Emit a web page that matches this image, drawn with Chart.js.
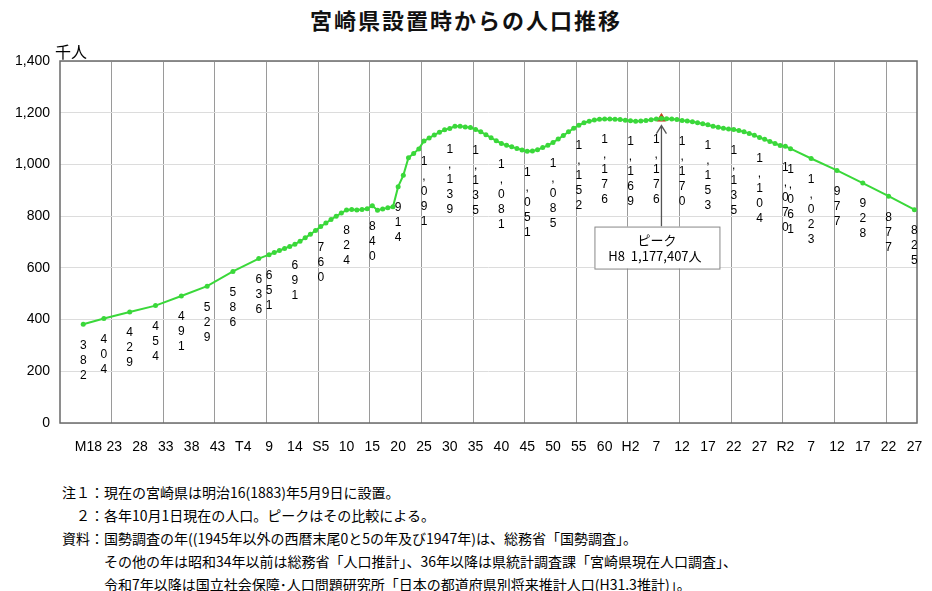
<!DOCTYPE html>
<html lang="ja">
<head>
<meta charset="utf-8">
<title>宮崎県設置時からの人口推移</title>
<script src="https://cdn.jsdelivr.net/npm/chart.js@4.4.1/dist/chart.umd.min.js"></script>
<style>
  html, body { margin: 0; padding: 0; background: #fff; }
  body { width: 932px; height: 591px; position: relative; overflow: hidden; font-family: "Noto Sans CJK JP", sans-serif; color: #000; }
  #title { position: absolute; left: 0; top: 3px; width: 932px; text-align: center; font-size: 22px; font-weight: bold; letter-spacing: 2px; color: #111; }
  #unit { position: absolute; left: 55px; top: 41px; font-size: 16px; line-height: 20px; }
  #wrap { position: absolute; left: 0; top: 0; width: 932px; height: 460px; }
  #notes { position: absolute; left: 62px; top: 481px; font-size: 14px; line-height: 23px; white-space: pre; }
</style>
</head>
<body>
<div id="title">宮崎県設置時からの人口推移</div>
<div id="wrap"><canvas id="popChart"></canvas></div>
<div id="unit">千人</div>
<div id="notes"><div>注１：現在の宮崎県は明治16(1883)年5月9日に設置。</div><div>　２：各年10月1日現在の人口。ピークはその比較による。</div><div>資料：国勢調査の年((1945年以外の西暦末尾0と5の年及び1947年)は、総務省「国勢調査」。</div><div>　　　その他の年は昭和34年以前は総務省「人口推計」、36年以降は県統計調査課「宮崎県現在人口調査」、</div><div>　　　令和7年以降は国立社会保障･人口問題研究所「日本の都道府県別将来推計人口(H31.3推計)」。</div></div>

<script>
// years of each data point (western calendar)
const years = [
    1884, 1888, 1893, 1898, 1903, 1908, 1913, 1918,
    1920, 1921, 1922, 1923, 1924, 1925, 1926, 1927, 1928, 1929,
    1930, 1931, 1932, 1933, 1934, 1935, 1936, 1937, 1938, 1939,
    1940, 1941, 1942, 1943, 1944, 1945, 1946, 1947, 1948, 1949,
    1950, 1951, 1952, 1953, 1954, 1955, 1956, 1957, 1958, 1959,
    1960, 1961, 1962, 1963, 1964, 1965, 1966, 1967, 1968, 1969,
    1970, 1971, 1972, 1973, 1974, 1975, 1976, 1977, 1978, 1979,
    1980, 1981, 1982, 1983, 1984, 1985, 1986, 1987, 1988, 1989,
    1990, 1991, 1992, 1993, 1994, 1995, 1996, 1997, 1998, 1999,
    2000, 2001, 2002, 2003, 2004, 2005, 2006, 2007, 2008, 2009,
    2010, 2011, 2012, 2013, 2014, 2015, 2016, 2017, 2018, 2019,
    2020, 2021,
    2025, 2030, 2035, 2040, 2045
];

// population, thousands
const population = [
    382, 404, 429, 454, 491, 529, 586, 636,
    651, 659, 667, 675, 683, 691, 703, 716, 730, 744,
    760, 773, 787, 800, 812, 824, 826, 824, 826, 829,
    840, 823, 828, 832, 836, 914, 958, 1026, 1042, 1060,
    1091, 1102, 1114, 1124, 1134, 1139, 1148, 1148, 1145, 1143,
    1135, 1126, 1115, 1103, 1092, 1081, 1074, 1068, 1062, 1056,
    1051, 1052, 1057, 1065, 1074, 1085, 1098, 1112, 1126, 1140,
    1152, 1161, 1167, 1172, 1175, 1176, 1176, 1175, 1174, 1171,
    1169, 1167, 1168, 1170, 1173, 1176, 1177.4, 1177, 1176, 1174,
    1170, 1168, 1165, 1161, 1157, 1153, 1148, 1144, 1140, 1137,
    1135, 1131, 1126, 1120, 1113, 1104, 1097, 1089, 1081, 1073,
    1070, 1061,
    1023, 977, 928, 877, 825
];

// years that carry a value label
const labeledYears = [
    1884, 1888, 1893, 1898, 1903, 1908, 1913, 1918, 1920, 1925,
    1930, 1935, 1940, 1945, 1950, 1955, 1960, 1965, 1970, 1975,
    1980, 1985, 1990, 1995, 2000, 2005, 2010, 2015, 2020, 2021,
    2025, 2030, 2035, 2040, 2045
];

// axis labels (Meiji / Taisho / Showa / Heisei / Reiwa)
const tickYears = [
    1885, 1890, 1895, 1900, 1905, 1910, 1915, 1920, 1925, 1930, 1935,
    1940, 1945, 1950, 1955, 1960, 1965, 1970, 1975, 1980, 1985, 1990,
    1995, 2000, 2005, 2010, 2015, 2020, 2025, 2030, 2035, 2040, 2045
];
const tickLabels = [
    'M18', '23', '28', '33', '38', '43', 'T4', '9', '14', 'S5', '10',
    '15', '20', '25', '30', '35', '40', '45', '50', '55', '60', 'H2',
    '7', '12', '17', '22', '27', 'R2', '7', '12', '17', '22', '27'
];

const peakYear = 1996;
const peakValue = 1177.407;

const GREEN = '#3ad83a';
const TICK_FONT = { family: '"Liberation Sans", Arial, sans-serif', size: 14 };

const frame = {
    id: 'frame',
    beforeDatasetsDraw(chart) {
        const { ctx, chartArea: a } = chart;
        ctx.save();
        ctx.strokeStyle = '#6a6a6a';
        ctx.lineWidth = 1.5;
        ctx.strokeRect(a.left, a.top, a.right - a.left, a.bottom - a.top);
        ctx.restore();
    }
};

const verticalLabels = {
    id: 'verticalLabels',
    afterDatasetsDraw(chart) {
        const meta = chart.getDatasetMeta(0);
        const ctx = chart.ctx;
        ctx.save();
        ctx.font = '12px "Liberation Sans", Arial, sans-serif';
        ctx.fillStyle = '#000';
        ctx.textAlign = 'center';
        ctx.textBaseline = 'middle';
        years.forEach((yr, i) => {
            if (!labeledYears.includes(yr)) return;
            const pt = meta.data[i];
            const txt = Math.round(population[i]).toLocaleString('en-US');
            [...txt].forEach((ch, k) => ctx.fillText(ch, pt.x, pt.y + 21 + k * 15));
        });
        ctx.restore();
    }
};

const peakNote = {
    id: 'peakNote',
    afterDatasetsDraw(chart) {
        const pt = chart.getDatasetMeta(1).data[0];
        const ctx = chart.ctx;
        const bw = 125, bh = 42;
        const bx = pt.x - 67, by = pt.y + 108;
        ctx.save();
        ctx.strokeStyle = '#555';
        ctx.lineWidth = 1.3;
        ctx.beginPath();
        ctx.moveTo(pt.x, by);
        ctx.lineTo(pt.x, pt.y + 7);
        ctx.moveTo(pt.x - 5, pt.y + 15);
        ctx.lineTo(pt.x, pt.y + 7);
        ctx.lineTo(pt.x + 5, pt.y + 15);
        ctx.stroke();
        ctx.fillStyle = '#fff';
        ctx.fillRect(bx, by, bw, bh);
        ctx.strokeStyle = '#888';
        ctx.lineWidth = 1;
        ctx.strokeRect(bx + 0.5, by + 0.5, bw, bh);
        ctx.fillStyle = '#000';
        ctx.textAlign = 'center';
        ctx.textBaseline = 'middle';
        ctx.font = '13px "Noto Sans CJK JP", sans-serif';
        ctx.fillText('ピーク', bx + bw / 2, by + 14);
        ctx.fillText('H8  1,177,407人', bx + bw / 2 - 2, by + 30);
        ctx.restore();
    }
};

new Chart(document.getElementById('popChart'), {
    type: 'line',
    data: {
        datasets: [{
            label: '人口',
            data: years.map((yr, i) => ({ x: yr, y: population[i] })),
            borderColor: GREEN,
            backgroundColor: GREEN,
            borderWidth: 2,
            pointRadius: 2.5,
            pointHoverRadius: 2.5,
            pointBorderWidth: 0,
            tension: 0,
            xAxisID: 'x'
        }, {
            label: 'ピーク',
            data: [{ x: peakYear, y: peakValue }],
            showLine: false,
            pointStyle: 'triangle',
            pointRadius: 5,
            backgroundColor: '#c0401c',
            borderColor: '#c0401c',
            borderWidth: 1,
            xAxisID: 'x'
        }]
    },
    options: {
        responsive: true,
        maintainAspectRatio: false,
        animation: false,
        layout: { padding: { top: 61, right: 15, left: 0, bottom: 0 } },
        plugins: { legend: { display: false }, tooltip: { enabled: false } },
        scales: {
            x: {
                type: 'linear',
                position: 'bottom',
                min: 1879.5,
                max: 2045.5,
                afterBuildTicks: axis => { axis.ticks = tickYears.map(v => ({ value: v })); },
                afterFit: axis => { axis.height = 37; },
                grid: { display: false },
                border: { display: false },
                ticks: {
                    autoSkip: false,
                    maxRotation: 0,
                    padding: 8,
                    color: '#000',
                    font: TICK_FONT,
                    callback: (v, i) => tickLabels[i]
                }
            },
            xg: {
                type: 'linear',
                position: 'bottom',
                min: 1879.5,
                max: 2045.5,
                afterBuildTicks: axis => {
                    axis.ticks = [1889.5, 1899.5, 1909.5, 1919.5, 1929.5, 1939.5, 1949.5, 1959.5,
                        1969.5, 1979.5, 1989.5, 1999.5, 2009.5, 2019.5, 2029.5, 2039.5].map(v => ({ value: v }));
                },
                afterFit: axis => { axis.height = 0; },
                grid: { color: '#9a9a9a', lineWidth: 1, drawTicks: false },
                border: { display: false },
                ticks: { display: false }
            },
            y: {
                min: 0,
                max: 1400,
                afterFit: axis => { axis.width = 60; },
                grid: { color: '#dcdcdc', lineWidth: 1, drawTicks: false },
                border: { display: false },
                ticks: {
                    stepSize: 200,
                    padding: 10,
                    color: '#000',
                    font: TICK_FONT,
                    callback: v => v.toLocaleString('en-US')
                }
            }
        }
    },
    plugins: [frame, verticalLabels, peakNote]
});
</script>
</body>
</html>
